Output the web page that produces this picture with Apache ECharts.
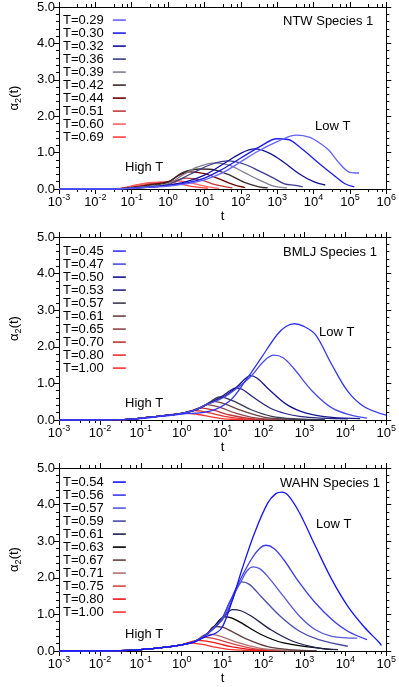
<!DOCTYPE html>
<html>
<head>
<meta charset="utf-8">
<script src="https://cdn.jsdelivr.net/npm/echarts@6/dist/echarts.min.js"></script>
<style>
html,body{margin:0;padding:0;background:#fff;}
#c{width:399px;height:687px;}
</style>
</head>
<body>
<div id="c"></div>
<script>
// ---------- DATA ----------
const ntwTemps = ['0.29','0.30','0.32','0.36','0.39','0.42','0.44','0.51','0.60','0.69'];
const ntwColors = ['#6262ff','#1c1ce6','#10109c','#3c3c8c','#80808f','#3a2c2c','#6e0000','#c03a3a','#ff6464','#ff4040'];
const ntwCurves = [
  [[1e-3,0],[0.032,0],[0.1,0.02],[0.32,0.05],[1,0.08],[3.2,0.14],[10,0.25],[32,0.45],[100,0.75],[316,1.05],[1000,1.3],[3400,1.48],[7900,1.42],[14000,1.28],[26000,1.07],[52000,0.7],[100000,0.46],[178000,0.44]],
  [[1e-3,0],[0.032,0],[0.1,0.02],[0.32,0.05],[1,0.09],[3.2,0.17],[10,0.3],[32,0.55],[100,0.85],[316,1.15],[1000,1.38],[2000,1.36],[4000,1.17],[14000,0.71],[39000,0.35],[71000,0.15],[132000,0.06]],
  [[1e-3,0],[0.032,0],[0.1,0.02],[0.32,0.05],[1,0.1],[3.2,0.2],[10,0.38],[32,0.68],[100,0.98],[240,1.1],[630,0.98],[1585,0.72],[4000,0.42],[10000,0.2],[21000,0.11]],
  [[1e-3,0],[0.032,0],[0.1,0.02],[0.32,0.06],[1,0.12],[2.5,0.3],[6.3,0.5],[16,0.68],[45,0.77],[126,0.68],[316,0.5],[800,0.3],[1585,0.14],[3160,0.1],[5000,0.06]],
  [[1e-3,0],[0.032,0],[0.1,0.03],[0.32,0.08],[1,0.15],[2.5,0.38],[6.3,0.6],[20,0.72],[50,0.65],[126,0.45],[316,0.25],[800,0.08],[1860,0.03]],
  [[1e-3,0],[0.032,0],[0.1,0.03],[0.32,0.1],[1,0.18],[2.5,0.45],[8,0.55],[20,0.52],[50,0.38],[126,0.18],[316,0.06],[550,0.03]],
  [[1e-3,0],[0.032,0],[0.1,0.04],[0.32,0.12],[1,0.2],[2,0.38],[4,0.47],[10,0.42],[25,0.28],[63,0.12],[132,0.04]],
  [[1e-3,0],[0.032,0],[0.1,0.05],[0.32,0.14],[1,0.19],[2,0.26],[3.2,0.3],[8,0.25],[20,0.12],[59,0.03]],
  [[1e-3,0],[0.032,0],[0.08,0.05],[0.2,0.14],[0.5,0.18],[1,0.2],[2,0.22],[5,0.15],[12.6,0.06],[25,0.02]],
  [[1e-3,0],[0.025,0],[0.063,0.04],[0.16,0.13],[0.4,0.18],[1,0.19],[2.5,0.12],[6.3,0.05],[12.6,0.02]]
];

const bmljTemps = ['0.45','0.47','0.50','0.53','0.57','0.61','0.65','0.70','0.80','1.00'];
const bmljColors = ['#3434f4','#4a4ae8','#14148e','#262680','#3a3a52','#6a4242','#8a4848','#c03434','#e43232','#ff3232'];
const bmljCurves = [
  [[1e-3,0],[0.032,0.01],[0.1,0.04],[0.32,0.1],[1,0.16],[4.9,0.24],[14.5,0.51],[35.5,1.06],[87,1.69],[214,2.33],[360,2.56],[575,2.63],[1000,2.55],[1862,2.33],[4677,1.51],[11500,0.78],[28200,0.37],[100000,0.13]],
  [[1e-3,0],[0.032,0.01],[0.1,0.05],[0.32,0.11],[1,0.18],[2,0.26],[4,0.42],[10,0.6],[22,0.86],[50,1.2],[100,1.6],[178,1.77],[300,1.7],[537,1.42],[1585,0.78],[4700,0.33],[13800,0.13],[34000,0.05]],
  [[1e-3,0],[0.032,0.01],[0.1,0.05],[0.32,0.11],[1,0.18],[2,0.26],[4,0.42],[10,0.62],[22,0.9],[35,1.12],[47,1.21],[70,1.14],[126,0.87],[372,0.42],[1100,0.19],[4700,0.07],[23000,0.04]],
  [[1e-3,0],[0.032,0.01],[0.1,0.05],[0.32,0.11],[1,0.18],[2,0.26],[4,0.42],[10,0.66],[15,0.8],[20.4,0.87],[30,0.84],[60,0.6],[178,0.28],[760,0.1],[11500,0.03]],
  [[1e-3,0],[0.032,0.01],[0.1,0.05],[0.32,0.11],[1,0.18],[2,0.26],[4,0.42],[6,0.56],[8.3,0.63],[12,0.6],[20,0.5],[50,0.28],[158,0.1],[630,0.03],[3160,0.01]],
  [[1e-3,0],[0.032,0.01],[0.1,0.05],[0.32,0.11],[1,0.18],[2,0.26],[3.2,0.35],[4.5,0.46],[5.75,0.51],[8,0.49],[12.6,0.42],[32,0.24],[100,0.08],[400,0.02],[1585,0.01]],
  [[1e-3,0],[0.032,0.01],[0.1,0.05],[0.32,0.11],[1,0.18],[2,0.26],[3,0.35],[4,0.42],[5.5,0.4],[8.9,0.34],[22,0.18],[63,0.06],[400,0.01]],
  [[1e-3,0],[0.032,0.01],[0.1,0.05],[0.32,0.11],[1,0.18],[2,0.28],[2.8,0.33],[4,0.31],[6.3,0.26],[16,0.13],[50,0.04],[200,0.01]],
  [[1e-3,0],[0.032,0.01],[0.1,0.05],[0.32,0.11],[1,0.18],[1.95,0.26],[3,0.24],[4.5,0.2],[11,0.1],[32,0.03],[126,0.01]],
  [[1e-3,0],[0.032,0.01],[0.1,0.05],[0.32,0.11],[1.15,0.19],[2.5,0.15],[6.3,0.07],[16,0.02],[63,0.01]]
];

const wahnTemps = ['0.54','0.56','0.57','0.59','0.61','0.63','0.67','0.71','0.75','0.80','1.00'];
const wahnColors = ['#1414ff','#3a3aee','#5656dc','#4a4aa8','#20204e','#000000','#604040','#b07070','#d44444','#f01414','#ff3232'];
const wahnCurves = [
  [[1e-3,0],[0.032,0.01],[0.1,0.04],[0.32,0.09],[1,0.17],[2,0.24],[4,0.4],[6.9,0.49],[10,0.67],[17.4,1.4],[29.5,2.22],[60,3.22],[126,4.04],[200,4.3],[282,4.34],[400,4.25],[760,3.77],[1860,2.86],[4677,1.95],[11500,1.22],[28200,0.67],[69000,0.22],[76000,0.15]],
  [[1e-3,0],[0.032,0.01],[0.1,0.04],[0.32,0.09],[1,0.17],[2,0.25],[4,0.45],[8.3,0.77],[14.5,1.31],[24.5,1.86],[50,2.5],[80,2.8],[115,2.89],[180,2.8],[309,2.5],[760,1.86],[1860,1.31],[4677,0.86],[11500,0.54],[33900,0.31]],
  [[1e-3,0],[0.032,0.01],[0.1,0.04],[0.32,0.09],[1,0.17],[2,0.25],[4,0.45],[6.9,0.7],[10,0.9],[14.5,1.31],[27,1.86],[40,2.2],[56,2.3],[80,2.25],[126,2.04],[309,1.49],[760,0.95],[1860,0.58],[4677,0.4],[19500,0.35]],
  [[1e-3,0],[0.032,0.01],[0.1,0.04],[0.32,0.09],[1,0.17],[2,0.25],[4,0.45],[6.9,0.7],[10,0.86],[17.4,1.4],[22,1.7],[29.5,1.89],[45,1.82],[87,1.49],[257,0.95],[760,0.54],[2240,0.31],[11500,0.13]],
  [[1e-3,0],[0.032,0.01],[0.1,0.04],[0.32,0.09],[1,0.17],[2,0.25],[4,0.45],[6.9,0.7],[11,0.95],[17.4,1.13],[28,1.1],[51,0.95],[151,0.58],[537,0.26],[2240,0.08],[6600,0.04]],
  [[1e-3,0],[0.032,0.01],[0.1,0.04],[0.32,0.09],[1,0.17],[2,0.25],[4,0.45],[6.3,0.68],[11,0.93],[17,0.9],[29.5,0.76],[87,0.45],[309,0.22],[4677,0.04]],
  [[1e-3,0],[0.032,0.01],[0.1,0.04],[0.32,0.09],[1,0.17],[2,0.25],[4,0.45],[6.3,0.67],[10,0.65],[15.8,0.55],[40,0.32],[126,0.12],[500,0.03],[2000,0.01]],
  [[1e-3,0],[0.032,0.01],[0.1,0.04],[0.32,0.09],[1,0.17],[2,0.25],[4.2,0.46],[6.5,0.44],[10,0.38],[25,0.22],[79,0.08],[316,0.02],[1000,0.01]],
  [[1e-3,0],[0.032,0.01],[0.1,0.04],[0.32,0.09],[1,0.17],[2,0.25],[3.4,0.38],[5,0.36],[7.9,0.31],[20,0.18],[63,0.06],[400,0.01]],
  [[1e-3,0],[0.032,0.01],[0.1,0.04],[0.32,0.09],[1,0.17],[2.57,0.29],[4,0.27],[6.3,0.23],[15.8,0.12],[50,0.04],[250,0.01]],
  [[1e-3,0],[0.032,0.01],[0.1,0.04],[0.32,0.09],[1,0.17],[1.5,0.22],[2.2,0.21],[3.2,0.18],[7.9,0.09],[20,0.03],[100,0.01]]
];

const panelTitles = ['NTW Species 1','BMLJ Species 1','WAHN Species 1'];
const xMaxValues = [1e6, 1e5, 1e5];
const yMin = 0, yMax = 5, yStep = 1;

// ---------- LAYOUT / STYLE ----------
const FONT = '"Liberation Sans", Arial, Helvetica, sans-serif';
const grids = [
  {left:50, top:7, width:340, height:182},
  {left:50, top:237, width:340, height:183},
  {left:50, top:468, width:340, height:183}
];
const legendTops = [8.6, 239.6, 470.6];
const panels = [
  {key:'ntw', temps:ntwTemps, colors:ntwColors, curves:ntwCurves},
  {key:'bmlj', temps:bmljTemps, colors:bmljColors, curves:bmljCurves},
  {key:'wahn', temps:wahnTemps, colors:wahnColors, curves:wahnCurves}
];

const axisLine = {show:true, onZero:false, lineStyle:{color:'#000', width:1}};
const xAxis = [], yAxis = [], series = [], legend = [];

panels.forEach((p, gi) => {
  const decades = Math.round(Math.log10(xMaxValues[gi]) + 3);
  xAxis.push({
    type:'log', logBase:10, gridIndex:gi, min:1e-3, max:xMaxValues[gi], splitNumber:decades,
    position:'bottom', axisLine,
    axisTick:{show:true, inside:false, length:5, lineStyle:{color:'#000'}},
    minorTick:{show:true, splitNumber:4, length:3, lineStyle:{color:'#000'}},
    splitLine:{show:false}, minorSplitLine:{show:false},
    axisLabel:{
      margin:5, color:'#000', fontFamily:FONT,
      formatter: v => '{b|10}{s|' + Math.round(Math.log10(v)) + '}',
      rich:{
        b:{fontSize:13, fontFamily:FONT, color:'#000', verticalAlign:'bottom', lineHeight:15},
        s:{fontSize:9, fontFamily:FONT, color:'#000', verticalAlign:'bottom', lineHeight:15, padding:[0,0,7,0]}
      }
    },
    name:'t', nameLocation:'middle', nameGap:19,
    nameTextStyle:{fontSize:13, fontFamily:FONT, color:'#000'}
  });
  xAxis.push({
    type:'log', logBase:10, gridIndex:gi, min:1e-3, max:xMaxValues[gi], splitNumber:decades,
    position:'top', axisLine,
    axisTick:{show:true, inside:false, length:5, lineStyle:{color:'#000'}},
    minorTick:{show:true, splitNumber:4, length:3, lineStyle:{color:'#000'}},
    splitLine:{show:false}, axisLabel:{show:false}
  });
  yAxis.push({
    type:'value', gridIndex:gi, min:yMin, max:yMax, interval:yStep, position:'left', axisLine,
    axisTick:{show:true, inside:false, length:5, lineStyle:{color:'#000'}},
    minorTick:{show:true, splitNumber:5, length:3, lineStyle:{color:'#000'}},
    splitLine:{show:false},
    axisLabel:{formatter: v => v.toFixed(1), fontSize:13, fontFamily:FONT, color:'#000', margin:4},
    name:'{a|α}{s|2}{a|(t)}', nameLocation:'middle', nameGap:36,
    nameTextStyle:{
      rich:{
        a:{fontSize:13, fontFamily:FONT, color:'#000', verticalAlign:'top', lineHeight:15},
        s:{fontSize:9, fontFamily:FONT, color:'#000', verticalAlign:'top', lineHeight:15, padding:[6,0,0,0]}
      }
    }
  });
  yAxis.push({
    type:'value', gridIndex:gi, min:yMin, max:yMax, interval:yStep, position:'right', axisLine,
    axisTick:{show:true, inside:false, length:5, lineStyle:{color:'#000'}},
    minorTick:{show:true, splitNumber:5, length:3, lineStyle:{color:'#000'}},
    splitLine:{show:false}, axisLabel:{show:false}
  });
  const names = [];
  p.temps.forEach((T, i) => {
    const name = p.key + '|T=' + T;
    names.push(name);
    series.push({
      type:'line', name, xAxisIndex:gi*2, yAxisIndex:gi*2,
      data:p.curves[i], showSymbol:false, symbol:'none', smooth:0.35,
      color:p.colors[i], lineStyle:{width:1.3, color:p.colors[i]},
      clip:true, animation:false, z:10 - i
    });
  });
  legend.push({
    data:names, orient:'vertical', left:58, top:legendTops[gi], align:'right',
    icon:'rect', itemWidth:13, itemHeight:1.6, itemGap:0, selectedMode:false,
    formatter: n => n.split('|')[1],
    textStyle:{fontSize:13, fontFamily:FONT, color:'#000', lineHeight:12.8, padding:[0,4,0,0]}
  });
});

const textStyle = (text, x, y) => ({
  type:'text', x, y,
  style:{text, fill:'#000', font:'13px ' + FONT, textVerticalAlign:'middle'}
});
const graphic = [
  textStyle(panelTitles[0], 283, 21),
  textStyle('Low T', 315, 126),
  textStyle('High T', 125, 167),
  textStyle(panelTitles[1], 283, 252),
  textStyle('Low T', 319, 332),
  textStyle('High T', 125, 403),
  textStyle(panelTitles[2], 280, 483),
  textStyle('Low T', 316, 524),
  textStyle('High T', 125, 634)
];

const chart = echarts.init(document.getElementById('c'), null, {renderer:'canvas'});
chart.setOption({
  animation:false,
  backgroundColor:'#fff',
  textStyle:{fontFamily:FONT},
  grid:grids.map(g => Object.assign({containLabel:false}, g)),
  xAxis, yAxis, series, legend, graphic
});
</script>
</body>
</html>
